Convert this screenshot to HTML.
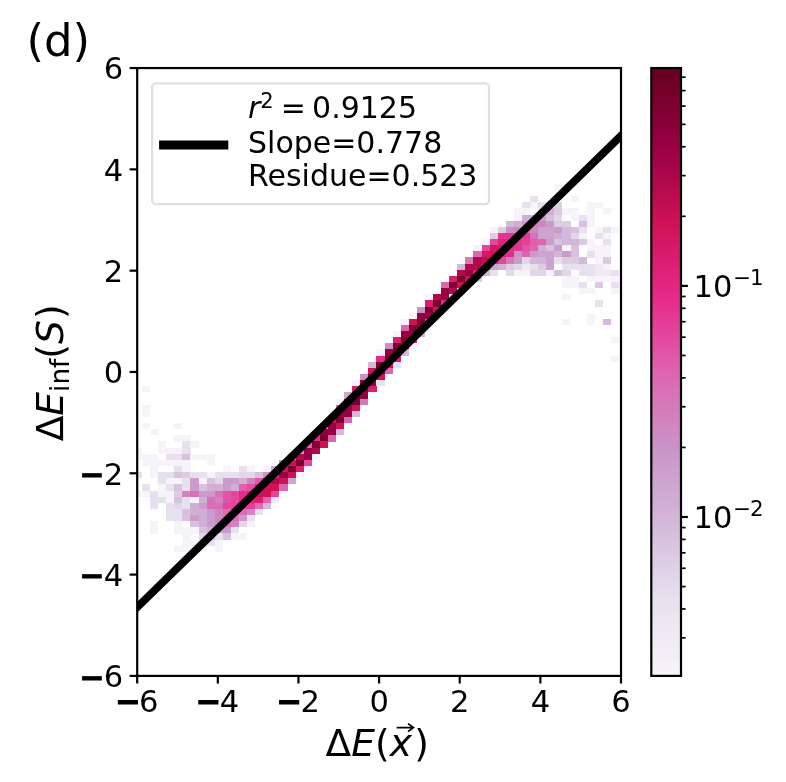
<!DOCTYPE html>
<html lang="en"><head><meta charset="utf-8"><title>(d) correlation plot</title>
<style>html,body{margin:0;padding:0;background:#fff}body{width:786px;height:782px;overflow:hidden}svg{display:block}text{font-family:"DejaVu Sans","Liberation Sans",sans-serif;fill:#000}.it{font-family:"DejaVu Sans","Liberation Sans",sans-serif;font-style:oblique}</style>
</head><body>
<svg width="786" height="782" viewBox="0 0 786 782">
<rect width="786" height="782" fill="#fff"/>
<defs><clipPath id="ax"><rect x="137.20" y="68.05" width="483.80" height="607.85"/></clipPath>
<linearGradient id="cb" x1="0" y1="0" x2="0" y2="1"><stop offset="0.0000" stop-color="#67001f"/><stop offset="0.0156" stop-color="#6c0022"/><stop offset="0.0312" stop-color="#720027"/><stop offset="0.0469" stop-color="#78002b"/><stop offset="0.0625" stop-color="#7e0030"/><stop offset="0.0781" stop-color="#840034"/><stop offset="0.0938" stop-color="#8a0039"/><stop offset="0.1094" stop-color="#91003d"/><stop offset="0.1250" stop-color="#970042"/><stop offset="0.1406" stop-color="#9d0245"/><stop offset="0.1562" stop-color="#a40447"/><stop offset="0.1719" stop-color="#ab064a"/><stop offset="0.1875" stop-color="#b2094c"/><stop offset="0.2031" stop-color="#b80b4e"/><stop offset="0.2188" stop-color="#bf0d51"/><stop offset="0.2344" stop-color="#c60f53"/><stop offset="0.2500" stop-color="#cd1256"/><stop offset="0.2656" stop-color="#d1145b"/><stop offset="0.2812" stop-color="#d41762"/><stop offset="0.2969" stop-color="#d71a68"/><stop offset="0.3125" stop-color="#da1d6f"/><stop offset="0.3281" stop-color="#dd2075"/><stop offset="0.3438" stop-color="#e0237c"/><stop offset="0.3594" stop-color="#e32682"/><stop offset="0.3750" stop-color="#e72989"/><stop offset="0.3906" stop-color="#e62f8e"/><stop offset="0.4062" stop-color="#e53793"/><stop offset="0.4219" stop-color="#e43e98"/><stop offset="0.4375" stop-color="#e3469c"/><stop offset="0.4531" stop-color="#e24da1"/><stop offset="0.4688" stop-color="#e155a6"/><stop offset="0.4844" stop-color="#e05dab"/><stop offset="0.5000" stop-color="#df64af"/><stop offset="0.5156" stop-color="#dd6ab3"/><stop offset="0.5312" stop-color="#da70b5"/><stop offset="0.5469" stop-color="#d776b8"/><stop offset="0.5625" stop-color="#d47cbb"/><stop offset="0.5781" stop-color="#d282be"/><stop offset="0.5938" stop-color="#cf88c1"/><stop offset="0.6094" stop-color="#cc8ec4"/><stop offset="0.6250" stop-color="#c993c7"/><stop offset="0.6406" stop-color="#ca98c9"/><stop offset="0.6562" stop-color="#cc9dcc"/><stop offset="0.6719" stop-color="#cda1ce"/><stop offset="0.6875" stop-color="#cea6d0"/><stop offset="0.7031" stop-color="#d0abd3"/><stop offset="0.7188" stop-color="#d1afd5"/><stop offset="0.7344" stop-color="#d3b4d7"/><stop offset="0.7500" stop-color="#d4b9da"/><stop offset="0.7656" stop-color="#d6bedc"/><stop offset="0.7812" stop-color="#d9c3df"/><stop offset="0.7969" stop-color="#dbc8e2"/><stop offset="0.8125" stop-color="#ddcde4"/><stop offset="0.8281" stop-color="#e0d2e7"/><stop offset="0.8438" stop-color="#e2d7ea"/><stop offset="0.8594" stop-color="#e5dcec"/><stop offset="0.8750" stop-color="#e7e1ef"/><stop offset="0.8906" stop-color="#e9e3f0"/><stop offset="0.9062" stop-color="#ebe6f1"/><stop offset="0.9219" stop-color="#ede8f3"/><stop offset="0.9375" stop-color="#efeaf4"/><stop offset="0.9531" stop-color="#f1edf5"/><stop offset="0.9688" stop-color="#f3eff6"/><stop offset="0.9844" stop-color="#f5f2f8"/><stop offset="1.0000" stop-color="#f7f4f9"/></linearGradient></defs>
<g clip-path="url(#ax)" shape-rendering="crispEdges">
<rect x="133.86" y="447.60" width="8.14" height="6.18" fill="#f7f4f9"/>
<rect x="133.86" y="453.74" width="8.14" height="6.18" fill="#f7f4f9"/>
<rect x="133.86" y="472.13" width="8.14" height="6.18" fill="#e7e1ef"/>
<rect x="133.86" y="490.53" width="8.14" height="6.18" fill="#f7f4f9"/>
<rect x="141.95" y="386.27" width="8.14" height="6.18" fill="#f7f4f9"/>
<rect x="141.95" y="404.67" width="8.14" height="6.18" fill="#f7f4f9"/>
<rect x="141.95" y="410.81" width="8.14" height="6.18" fill="#f7f4f9"/>
<rect x="141.95" y="423.07" width="8.14" height="6.18" fill="#f7f4f9"/>
<rect x="141.95" y="453.74" width="8.14" height="6.18" fill="#f7f4f9"/>
<rect x="141.95" y="459.87" width="8.14" height="6.18" fill="#f7f4f9"/>
<rect x="141.95" y="484.40" width="8.14" height="6.18" fill="#e7e1ef"/>
<rect x="141.95" y="490.53" width="8.14" height="6.18" fill="#f7f4f9"/>
<rect x="150.04" y="429.20" width="8.14" height="6.18" fill="#f7f4f9"/>
<rect x="150.04" y="453.74" width="8.14" height="6.18" fill="#f7f4f9"/>
<rect x="150.04" y="459.87" width="8.14" height="6.18" fill="#f7f4f9"/>
<rect x="150.04" y="466.00" width="8.14" height="6.18" fill="#f7f4f9"/>
<rect x="150.04" y="472.13" width="8.14" height="6.18" fill="#f7f4f9"/>
<rect x="150.04" y="490.53" width="8.14" height="6.18" fill="#e7e1ef"/>
<rect x="150.04" y="496.67" width="8.14" height="6.18" fill="#e7e1ef"/>
<rect x="150.04" y="502.80" width="8.14" height="6.18" fill="#e7e1ef"/>
<rect x="150.04" y="521.20" width="8.14" height="6.18" fill="#f7f4f9"/>
<rect x="150.04" y="527.33" width="8.14" height="6.18" fill="#f7f4f9"/>
<rect x="158.12" y="441.47" width="8.14" height="6.18" fill="#f7f4f9"/>
<rect x="158.12" y="447.60" width="8.14" height="6.18" fill="#f7f4f9"/>
<rect x="158.12" y="459.87" width="8.14" height="6.18" fill="#f7f4f9"/>
<rect x="158.12" y="472.13" width="8.14" height="6.18" fill="#e7e1ef"/>
<rect x="158.12" y="478.27" width="8.14" height="6.18" fill="#e7e1ef"/>
<rect x="158.12" y="484.40" width="8.14" height="6.18" fill="#f7f4f9"/>
<rect x="158.12" y="490.53" width="8.14" height="6.18" fill="#f7f4f9"/>
<rect x="158.12" y="496.67" width="8.14" height="6.18" fill="#e7e1ef"/>
<rect x="166.21" y="447.60" width="8.14" height="6.18" fill="#f7f4f9"/>
<rect x="166.21" y="453.74" width="8.14" height="6.18" fill="#e7e1ef"/>
<rect x="166.21" y="459.87" width="8.14" height="6.18" fill="#f7f4f9"/>
<rect x="166.21" y="472.13" width="8.14" height="6.18" fill="#e7e1ef"/>
<rect x="166.21" y="478.27" width="8.14" height="6.18" fill="#f7f4f9"/>
<rect x="166.21" y="484.40" width="8.14" height="6.18" fill="#e7e1ef"/>
<rect x="166.21" y="490.53" width="8.14" height="6.18" fill="#f7f4f9"/>
<rect x="166.21" y="496.67" width="8.14" height="6.18" fill="#f7f4f9"/>
<rect x="166.21" y="502.80" width="8.14" height="6.18" fill="#e7e1ef"/>
<rect x="166.21" y="508.93" width="8.14" height="6.18" fill="#e7e1ef"/>
<rect x="166.21" y="515.07" width="8.14" height="6.18" fill="#e7e1ef"/>
<rect x="174.29" y="423.07" width="8.14" height="6.18" fill="#f7f4f9"/>
<rect x="174.29" y="435.34" width="8.14" height="6.18" fill="#f7f4f9"/>
<rect x="174.29" y="447.60" width="8.14" height="6.18" fill="#f7f4f9"/>
<rect x="174.29" y="453.74" width="8.14" height="6.18" fill="#e7e1ef"/>
<rect x="174.29" y="459.87" width="8.14" height="6.18" fill="#f7f4f9"/>
<rect x="174.29" y="466.00" width="8.14" height="6.18" fill="#e7e1ef"/>
<rect x="174.29" y="472.13" width="8.14" height="6.18" fill="#d8c1de"/>
<rect x="174.29" y="478.27" width="8.14" height="6.18" fill="#f7f4f9"/>
<rect x="174.29" y="484.40" width="8.14" height="6.18" fill="#d8c1de"/>
<rect x="174.29" y="490.53" width="8.14" height="6.18" fill="#ddcde4"/>
<rect x="174.29" y="496.67" width="8.14" height="6.18" fill="#d8c1de"/>
<rect x="174.29" y="502.80" width="8.14" height="6.18" fill="#e2d6e9"/>
<rect x="174.29" y="508.93" width="8.14" height="6.18" fill="#e7e1ef"/>
<rect x="174.29" y="515.07" width="8.14" height="6.18" fill="#e7e1ef"/>
<rect x="174.29" y="521.20" width="8.14" height="6.18" fill="#f7f4f9"/>
<rect x="174.29" y="527.33" width="8.14" height="6.18" fill="#f7f4f9"/>
<rect x="174.29" y="545.73" width="8.14" height="6.18" fill="#f7f4f9"/>
<rect x="182.38" y="435.34" width="8.14" height="6.18" fill="#f7f4f9"/>
<rect x="182.38" y="441.47" width="8.14" height="6.18" fill="#e7e1ef"/>
<rect x="182.38" y="447.60" width="8.14" height="6.18" fill="#e7e1ef"/>
<rect x="182.38" y="453.74" width="8.14" height="6.18" fill="#d8c1de"/>
<rect x="182.38" y="459.87" width="8.14" height="6.18" fill="#f7f4f9"/>
<rect x="182.38" y="466.00" width="8.14" height="6.18" fill="#f7f4f9"/>
<rect x="182.38" y="472.13" width="8.14" height="6.18" fill="#ddcde4"/>
<rect x="182.38" y="478.27" width="8.14" height="6.18" fill="#e7e1ef"/>
<rect x="182.38" y="484.40" width="8.14" height="6.18" fill="#e7e1ef"/>
<rect x="182.38" y="490.53" width="8.14" height="6.18" fill="#cf86c0"/>
<rect x="182.38" y="496.67" width="8.14" height="6.18" fill="#e7e1ef"/>
<rect x="182.38" y="502.80" width="8.14" height="6.18" fill="#e7e1ef"/>
<rect x="182.38" y="508.93" width="8.14" height="6.18" fill="#d8c1de"/>
<rect x="182.38" y="515.07" width="8.14" height="6.18" fill="#d8c1de"/>
<rect x="182.38" y="527.33" width="8.14" height="6.18" fill="#f7f4f9"/>
<rect x="182.38" y="533.47" width="8.14" height="6.18" fill="#f7f4f9"/>
<rect x="182.38" y="539.60" width="8.14" height="6.18" fill="#f7f4f9"/>
<rect x="182.38" y="545.73" width="8.14" height="6.18" fill="#f7f4f9"/>
<rect x="190.47" y="441.47" width="8.14" height="6.18" fill="#f7f4f9"/>
<rect x="190.47" y="453.74" width="8.14" height="6.18" fill="#f7f4f9"/>
<rect x="190.47" y="472.13" width="8.14" height="6.18" fill="#e7e1ef"/>
<rect x="190.47" y="478.27" width="8.14" height="6.18" fill="#cb9ccb"/>
<rect x="190.47" y="484.40" width="8.14" height="6.18" fill="#cb9ccb"/>
<rect x="190.47" y="490.53" width="8.14" height="6.18" fill="#db6fb5"/>
<rect x="190.47" y="496.67" width="8.14" height="6.18" fill="#f7f4f9"/>
<rect x="190.47" y="502.80" width="8.14" height="6.18" fill="#d1aed4"/>
<rect x="190.47" y="508.93" width="8.14" height="6.18" fill="#d1aed4"/>
<rect x="190.47" y="515.07" width="8.14" height="6.18" fill="#cb9ccb"/>
<rect x="190.47" y="521.20" width="8.14" height="6.18" fill="#d8c1de"/>
<rect x="190.47" y="527.33" width="8.14" height="6.18" fill="#f7f4f9"/>
<rect x="190.47" y="539.60" width="8.14" height="6.18" fill="#f7f4f9"/>
<rect x="190.47" y="545.73" width="8.14" height="6.18" fill="#f7f4f9"/>
<rect x="198.55" y="453.74" width="8.14" height="6.18" fill="#f7f4f9"/>
<rect x="198.55" y="472.13" width="8.14" height="6.18" fill="#e7e1ef"/>
<rect x="198.55" y="478.27" width="8.14" height="6.18" fill="#f7f4f9"/>
<rect x="198.55" y="484.40" width="8.14" height="6.18" fill="#d8c1de"/>
<rect x="198.55" y="490.53" width="8.14" height="6.18" fill="#cb9ccb"/>
<rect x="198.55" y="496.67" width="8.14" height="6.18" fill="#d1aed4"/>
<rect x="198.55" y="502.80" width="8.14" height="6.18" fill="#cb9ccb"/>
<rect x="198.55" y="508.93" width="8.14" height="6.18" fill="#d1aed4"/>
<rect x="198.55" y="515.07" width="8.14" height="6.18" fill="#d1aed4"/>
<rect x="198.55" y="521.20" width="8.14" height="6.18" fill="#d1aed4"/>
<rect x="198.55" y="527.33" width="8.14" height="6.18" fill="#d8c1de"/>
<rect x="198.55" y="533.47" width="8.14" height="6.18" fill="#e2d6e9"/>
<rect x="198.55" y="539.60" width="8.14" height="6.18" fill="#e7e1ef"/>
<rect x="198.55" y="545.73" width="8.14" height="6.18" fill="#f7f4f9"/>
<rect x="206.64" y="453.74" width="8.14" height="6.18" fill="#f7f4f9"/>
<rect x="206.64" y="459.87" width="8.14" height="6.18" fill="#f7f4f9"/>
<rect x="206.64" y="472.13" width="8.14" height="6.18" fill="#f7f4f9"/>
<rect x="206.64" y="478.27" width="8.14" height="6.18" fill="#d8c1de"/>
<rect x="206.64" y="484.40" width="8.14" height="6.18" fill="#d1aed4"/>
<rect x="206.64" y="490.53" width="8.14" height="6.18" fill="#cb9ccb"/>
<rect x="206.64" y="496.67" width="8.14" height="6.18" fill="#db6fb5"/>
<rect x="206.64" y="502.80" width="8.14" height="6.18" fill="#db6fb5"/>
<rect x="206.64" y="508.93" width="8.14" height="6.18" fill="#cb9ccb"/>
<rect x="206.64" y="515.07" width="8.14" height="6.18" fill="#cb9ccb"/>
<rect x="206.64" y="521.20" width="8.14" height="6.18" fill="#cb9ccb"/>
<rect x="206.64" y="527.33" width="8.14" height="6.18" fill="#d1aed4"/>
<rect x="206.64" y="533.47" width="8.14" height="6.18" fill="#d8c1de"/>
<rect x="206.64" y="539.60" width="8.14" height="6.18" fill="#e7e1ef"/>
<rect x="214.72" y="472.13" width="8.14" height="6.18" fill="#e7e1ef"/>
<rect x="214.72" y="478.27" width="8.14" height="6.18" fill="#e2d6e9"/>
<rect x="214.72" y="484.40" width="8.14" height="6.18" fill="#d1aed4"/>
<rect x="214.72" y="490.53" width="8.14" height="6.18" fill="#db6fb5"/>
<rect x="214.72" y="496.67" width="8.14" height="6.18" fill="#cf86c0"/>
<rect x="214.72" y="502.80" width="8.14" height="6.18" fill="#db6fb5"/>
<rect x="214.72" y="508.93" width="8.14" height="6.18" fill="#cf86c0"/>
<rect x="214.72" y="515.07" width="8.14" height="6.18" fill="#cf86c0"/>
<rect x="214.72" y="521.20" width="8.14" height="6.18" fill="#cf86c0"/>
<rect x="214.72" y="527.33" width="8.14" height="6.18" fill="#cb9ccb"/>
<rect x="214.72" y="533.47" width="8.14" height="6.18" fill="#e7e1ef"/>
<rect x="214.72" y="539.60" width="8.14" height="6.18" fill="#f7f4f9"/>
<rect x="214.72" y="545.73" width="8.14" height="6.18" fill="#f7f4f9"/>
<rect x="222.81" y="466.00" width="8.14" height="6.18" fill="#f7f4f9"/>
<rect x="222.81" y="472.13" width="8.14" height="6.18" fill="#e7e1ef"/>
<rect x="222.81" y="478.27" width="8.14" height="6.18" fill="#cb9ccb"/>
<rect x="222.81" y="484.40" width="8.14" height="6.18" fill="#cb9ccb"/>
<rect x="222.81" y="490.53" width="8.14" height="6.18" fill="#e153a5"/>
<rect x="222.81" y="496.67" width="8.14" height="6.18" fill="#e153a5"/>
<rect x="222.81" y="502.80" width="8.14" height="6.18" fill="#e3469c"/>
<rect x="222.81" y="508.93" width="8.14" height="6.18" fill="#db6fb5"/>
<rect x="222.81" y="515.07" width="8.14" height="6.18" fill="#db6fb5"/>
<rect x="222.81" y="521.20" width="8.14" height="6.18" fill="#db6fb5"/>
<rect x="222.81" y="527.33" width="8.14" height="6.18" fill="#cb9ccb"/>
<rect x="222.81" y="533.47" width="8.14" height="6.18" fill="#d8c1de"/>
<rect x="230.90" y="472.13" width="8.14" height="6.18" fill="#e7e1ef"/>
<rect x="230.90" y="478.27" width="8.14" height="6.18" fill="#cb9ccb"/>
<rect x="230.90" y="484.40" width="8.14" height="6.18" fill="#d1aed4"/>
<rect x="230.90" y="490.53" width="8.14" height="6.18" fill="#e3469c"/>
<rect x="230.90" y="496.67" width="8.14" height="6.18" fill="#e3469c"/>
<rect x="230.90" y="502.80" width="8.14" height="6.18" fill="#e3469c"/>
<rect x="230.90" y="508.93" width="8.14" height="6.18" fill="#db6fb5"/>
<rect x="230.90" y="515.07" width="8.14" height="6.18" fill="#db6fb5"/>
<rect x="230.90" y="521.20" width="8.14" height="6.18" fill="#cf86c0"/>
<rect x="230.90" y="527.33" width="8.14" height="6.18" fill="#e7e1ef"/>
<rect x="230.90" y="533.47" width="8.14" height="6.18" fill="#f7f4f9"/>
<rect x="238.98" y="466.00" width="8.14" height="6.18" fill="#e7e1ef"/>
<rect x="238.98" y="472.13" width="8.14" height="6.18" fill="#e2d6e9"/>
<rect x="238.98" y="478.27" width="8.14" height="6.18" fill="#d1aed4"/>
<rect x="238.98" y="484.40" width="8.14" height="6.18" fill="#e05eac"/>
<rect x="238.98" y="490.53" width="8.14" height="6.18" fill="#e72989"/>
<rect x="238.98" y="496.67" width="8.14" height="6.18" fill="#e72989"/>
<rect x="238.98" y="502.80" width="8.14" height="6.18" fill="#e44099"/>
<rect x="238.98" y="508.93" width="8.14" height="6.18" fill="#db6fb5"/>
<rect x="238.98" y="515.07" width="8.14" height="6.18" fill="#cb9ccb"/>
<rect x="238.98" y="521.20" width="8.14" height="6.18" fill="#e2d6e9"/>
<rect x="238.98" y="533.47" width="8.14" height="6.18" fill="#f7f4f9"/>
<rect x="247.07" y="466.00" width="8.14" height="6.18" fill="#f7f4f9"/>
<rect x="247.07" y="472.13" width="8.14" height="6.18" fill="#e2d6e9"/>
<rect x="247.07" y="478.27" width="8.14" height="6.18" fill="#cf86c0"/>
<rect x="247.07" y="484.40" width="8.14" height="6.18" fill="#e24da1"/>
<rect x="247.07" y="490.53" width="8.14" height="6.18" fill="#df227a"/>
<rect x="247.07" y="496.67" width="8.14" height="6.18" fill="#df227a"/>
<rect x="247.07" y="502.80" width="8.14" height="6.18" fill="#e44099"/>
<rect x="247.07" y="508.93" width="8.14" height="6.18" fill="#cf86c0"/>
<rect x="247.07" y="515.07" width="8.14" height="6.18" fill="#e7e1ef"/>
<rect x="247.07" y="521.20" width="8.14" height="6.18" fill="#f7f4f9"/>
<rect x="255.15" y="472.13" width="8.14" height="6.18" fill="#d8c1de"/>
<rect x="255.15" y="478.27" width="8.14" height="6.18" fill="#e153a5"/>
<rect x="255.15" y="484.40" width="8.14" height="6.18" fill="#df227a"/>
<rect x="255.15" y="490.53" width="8.14" height="6.18" fill="#cd1256"/>
<rect x="255.15" y="496.67" width="8.14" height="6.18" fill="#da1d6f"/>
<rect x="255.15" y="502.80" width="8.14" height="6.18" fill="#db6fb5"/>
<rect x="255.15" y="508.93" width="8.14" height="6.18" fill="#e7e1ef"/>
<rect x="263.24" y="466.00" width="8.14" height="6.18" fill="#f7f4f9"/>
<rect x="263.24" y="472.13" width="8.14" height="6.18" fill="#c993c7"/>
<rect x="263.24" y="478.27" width="8.14" height="6.18" fill="#da1d6f"/>
<rect x="263.24" y="484.40" width="8.14" height="6.18" fill="#cd1256"/>
<rect x="263.24" y="490.53" width="8.14" height="6.18" fill="#cd1256"/>
<rect x="263.24" y="496.67" width="8.14" height="6.18" fill="#df64af"/>
<rect x="263.24" y="502.80" width="8.14" height="6.18" fill="#d4b9da"/>
<rect x="271.33" y="466.00" width="8.14" height="6.18" fill="#cea6d0"/>
<rect x="271.33" y="472.13" width="8.14" height="6.18" fill="#e72989"/>
<rect x="271.33" y="478.27" width="8.14" height="6.18" fill="#b2094c"/>
<rect x="271.33" y="484.40" width="8.14" height="6.18" fill="#cd1256"/>
<rect x="271.33" y="490.53" width="8.14" height="6.18" fill="#e3469c"/>
<rect x="271.33" y="496.67" width="8.14" height="6.18" fill="#efeaf4"/>
<rect x="279.41" y="459.87" width="8.14" height="6.18" fill="#c993c7"/>
<rect x="279.41" y="466.00" width="8.14" height="6.18" fill="#cd1256"/>
<rect x="279.41" y="472.13" width="8.14" height="6.18" fill="#970042"/>
<rect x="279.41" y="478.27" width="8.14" height="6.18" fill="#cd1256"/>
<rect x="279.41" y="484.40" width="8.14" height="6.18" fill="#df64af"/>
<rect x="287.50" y="453.74" width="8.14" height="6.18" fill="#df64af"/>
<rect x="287.50" y="459.87" width="8.14" height="6.18" fill="#cd1256"/>
<rect x="287.50" y="466.00" width="8.14" height="6.18" fill="#7e0030"/>
<rect x="287.50" y="472.13" width="8.14" height="6.18" fill="#cd1256"/>
<rect x="287.50" y="478.27" width="8.14" height="6.18" fill="#cea6d0"/>
<rect x="295.58" y="447.60" width="8.14" height="6.18" fill="#c993c7"/>
<rect x="295.58" y="453.74" width="8.14" height="6.18" fill="#b2094c"/>
<rect x="295.58" y="459.87" width="8.14" height="6.18" fill="#7e0030"/>
<rect x="295.58" y="466.00" width="8.14" height="6.18" fill="#da1d6f"/>
<rect x="295.58" y="472.13" width="8.14" height="6.18" fill="#f7f4f9"/>
<rect x="303.67" y="441.47" width="8.14" height="6.18" fill="#df64af"/>
<rect x="303.67" y="447.60" width="8.14" height="6.18" fill="#970042"/>
<rect x="303.67" y="453.74" width="8.14" height="6.18" fill="#970042"/>
<rect x="303.67" y="459.87" width="8.14" height="6.18" fill="#e3469c"/>
<rect x="303.67" y="466.00" width="8.14" height="6.18" fill="#f7f4f9"/>
<rect x="311.76" y="435.34" width="8.14" height="6.18" fill="#e72989"/>
<rect x="311.76" y="441.47" width="8.14" height="6.18" fill="#7e0030"/>
<rect x="311.76" y="447.60" width="8.14" height="6.18" fill="#b2094c"/>
<rect x="311.76" y="453.74" width="8.14" height="6.18" fill="#f7f4f9"/>
<rect x="319.84" y="423.07" width="8.14" height="6.18" fill="#c993c7"/>
<rect x="319.84" y="429.20" width="8.14" height="6.18" fill="#970042"/>
<rect x="319.84" y="435.34" width="8.14" height="6.18" fill="#7e0030"/>
<rect x="319.84" y="441.47" width="8.14" height="6.18" fill="#cd1256"/>
<rect x="327.93" y="410.81" width="8.14" height="6.18" fill="#f7f4f9"/>
<rect x="327.93" y="416.94" width="8.14" height="6.18" fill="#cd1256"/>
<rect x="327.93" y="423.07" width="8.14" height="6.18" fill="#970042"/>
<rect x="327.93" y="429.20" width="8.14" height="6.18" fill="#970042"/>
<rect x="327.93" y="435.34" width="8.14" height="6.18" fill="#df64af"/>
<rect x="336.01" y="398.54" width="8.14" height="6.18" fill="#f7f4f9"/>
<rect x="336.01" y="404.67" width="8.14" height="6.18" fill="#df64af"/>
<rect x="336.01" y="410.81" width="8.14" height="6.18" fill="#970042"/>
<rect x="336.01" y="416.94" width="8.14" height="6.18" fill="#7e0030"/>
<rect x="336.01" y="423.07" width="8.14" height="6.18" fill="#cd1256"/>
<rect x="336.01" y="429.20" width="8.14" height="6.18" fill="#d4b9da"/>
<rect x="344.10" y="392.41" width="8.14" height="6.18" fill="#cea6d0"/>
<rect x="344.10" y="398.54" width="8.14" height="6.18" fill="#970042"/>
<rect x="344.10" y="404.67" width="8.14" height="6.18" fill="#970042"/>
<rect x="344.10" y="410.81" width="8.14" height="6.18" fill="#970042"/>
<rect x="344.10" y="416.94" width="8.14" height="6.18" fill="#df64af"/>
<rect x="352.19" y="380.14" width="8.14" height="6.18" fill="#f7f4f9"/>
<rect x="352.19" y="386.27" width="8.14" height="6.18" fill="#da1d6f"/>
<rect x="352.19" y="392.41" width="8.14" height="6.18" fill="#7e0030"/>
<rect x="352.19" y="398.54" width="8.14" height="6.18" fill="#7e0030"/>
<rect x="352.19" y="404.67" width="8.14" height="6.18" fill="#cd1256"/>
<rect x="352.19" y="410.81" width="8.14" height="6.18" fill="#d4b9da"/>
<rect x="360.27" y="374.01" width="8.14" height="6.18" fill="#c993c7"/>
<rect x="360.27" y="380.14" width="8.14" height="6.18" fill="#970042"/>
<rect x="360.27" y="386.27" width="8.14" height="6.18" fill="#7e0030"/>
<rect x="360.27" y="392.41" width="8.14" height="6.18" fill="#970042"/>
<rect x="360.27" y="398.54" width="8.14" height="6.18" fill="#d47cbb"/>
<rect x="368.36" y="361.74" width="8.14" height="6.18" fill="#d4b9da"/>
<rect x="368.36" y="367.87" width="8.14" height="6.18" fill="#cd1256"/>
<rect x="368.36" y="374.01" width="8.14" height="6.18" fill="#7e0030"/>
<rect x="368.36" y="380.14" width="8.14" height="6.18" fill="#970042"/>
<rect x="368.36" y="386.27" width="8.14" height="6.18" fill="#da1d6f"/>
<rect x="376.44" y="349.48" width="8.14" height="6.18" fill="#f7f4f9"/>
<rect x="376.44" y="355.61" width="8.14" height="6.18" fill="#e72989"/>
<rect x="376.44" y="361.74" width="8.14" height="6.18" fill="#7e0030"/>
<rect x="376.44" y="367.87" width="8.14" height="6.18" fill="#970042"/>
<rect x="376.44" y="374.01" width="8.14" height="6.18" fill="#cd1256"/>
<rect x="376.44" y="380.14" width="8.14" height="6.18" fill="#e7e1ef"/>
<rect x="384.53" y="343.34" width="8.14" height="6.18" fill="#c993c7"/>
<rect x="384.53" y="349.48" width="8.14" height="6.18" fill="#970042"/>
<rect x="384.53" y="355.61" width="8.14" height="6.18" fill="#7e0030"/>
<rect x="384.53" y="361.74" width="8.14" height="6.18" fill="#cd1256"/>
<rect x="384.53" y="367.87" width="8.14" height="6.18" fill="#df64af"/>
<rect x="392.62" y="331.08" width="8.14" height="6.18" fill="#f7f4f9"/>
<rect x="392.62" y="337.21" width="8.14" height="6.18" fill="#da1d6f"/>
<rect x="392.62" y="343.34" width="8.14" height="6.18" fill="#7e0030"/>
<rect x="392.62" y="349.48" width="8.14" height="6.18" fill="#7e0030"/>
<rect x="392.62" y="355.61" width="8.14" height="6.18" fill="#da1d6f"/>
<rect x="392.62" y="361.74" width="8.14" height="6.18" fill="#e7e1ef"/>
<rect x="400.70" y="318.81" width="8.14" height="6.18" fill="#f7f4f9"/>
<rect x="400.70" y="324.94" width="8.14" height="6.18" fill="#df64af"/>
<rect x="400.70" y="331.08" width="8.14" height="6.18" fill="#970042"/>
<rect x="400.70" y="337.21" width="8.14" height="6.18" fill="#7e0030"/>
<rect x="400.70" y="343.34" width="8.14" height="6.18" fill="#cd1256"/>
<rect x="400.70" y="349.48" width="8.14" height="6.18" fill="#d4b9da"/>
<rect x="408.79" y="312.68" width="8.14" height="6.18" fill="#f7f4f9"/>
<rect x="408.79" y="318.81" width="8.14" height="6.18" fill="#cd1256"/>
<rect x="408.79" y="324.94" width="8.14" height="6.18" fill="#7e0030"/>
<rect x="408.79" y="331.08" width="8.14" height="6.18" fill="#970042"/>
<rect x="408.79" y="337.21" width="8.14" height="6.18" fill="#e72989"/>
<rect x="408.79" y="343.34" width="8.14" height="6.18" fill="#f7f4f9"/>
<rect x="416.87" y="306.54" width="8.14" height="6.18" fill="#c993c7"/>
<rect x="416.87" y="312.68" width="8.14" height="6.18" fill="#970042"/>
<rect x="416.87" y="318.81" width="8.14" height="6.18" fill="#7e0030"/>
<rect x="416.87" y="324.94" width="8.14" height="6.18" fill="#970042"/>
<rect x="416.87" y="331.08" width="8.14" height="6.18" fill="#d4b9da"/>
<rect x="424.96" y="294.28" width="8.14" height="6.18" fill="#f7f4f9"/>
<rect x="424.96" y="300.41" width="8.14" height="6.18" fill="#da1d6f"/>
<rect x="424.96" y="306.54" width="8.14" height="6.18" fill="#7e0030"/>
<rect x="424.96" y="312.68" width="8.14" height="6.18" fill="#970042"/>
<rect x="424.96" y="318.81" width="8.14" height="6.18" fill="#df64af"/>
<rect x="433.05" y="294.28" width="8.14" height="6.18" fill="#b2094c"/>
<rect x="433.05" y="300.41" width="8.14" height="6.18" fill="#7e0030"/>
<rect x="433.05" y="306.54" width="8.14" height="6.18" fill="#cd1256"/>
<rect x="441.13" y="282.01" width="8.14" height="6.18" fill="#df64af"/>
<rect x="441.13" y="288.14" width="8.14" height="6.18" fill="#970042"/>
<rect x="441.13" y="294.28" width="8.14" height="6.18" fill="#970042"/>
<rect x="441.13" y="300.41" width="8.14" height="6.18" fill="#e72989"/>
<rect x="449.22" y="275.88" width="8.14" height="6.18" fill="#da1d6f"/>
<rect x="449.22" y="282.01" width="8.14" height="6.18" fill="#7e0030"/>
<rect x="449.22" y="288.14" width="8.14" height="6.18" fill="#b2094c"/>
<rect x="457.30" y="263.61" width="8.14" height="6.18" fill="#d4b9da"/>
<rect x="457.30" y="269.75" width="8.14" height="6.18" fill="#b2094c"/>
<rect x="457.30" y="275.88" width="8.14" height="6.18" fill="#7e0030"/>
<rect x="457.30" y="282.01" width="8.14" height="6.18" fill="#cd1256"/>
<rect x="465.39" y="257.48" width="8.14" height="6.18" fill="#d47cbb"/>
<rect x="465.39" y="263.61" width="8.14" height="6.18" fill="#b2094c"/>
<rect x="465.39" y="269.75" width="8.14" height="6.18" fill="#970042"/>
<rect x="465.39" y="275.88" width="8.14" height="6.18" fill="#cd1256"/>
<rect x="473.48" y="245.21" width="8.14" height="6.18" fill="#f7f4f9"/>
<rect x="473.48" y="251.35" width="8.14" height="6.18" fill="#df64af"/>
<rect x="473.48" y="257.48" width="8.14" height="6.18" fill="#b2094c"/>
<rect x="473.48" y="263.61" width="8.14" height="6.18" fill="#b2094c"/>
<rect x="473.48" y="269.75" width="8.14" height="6.18" fill="#da1d6f"/>
<rect x="473.48" y="275.88" width="8.14" height="6.18" fill="#ddcde4"/>
<rect x="481.56" y="239.08" width="8.14" height="6.18" fill="#f7f4f9"/>
<rect x="481.56" y="245.21" width="8.14" height="6.18" fill="#e3469c"/>
<rect x="481.56" y="251.35" width="8.14" height="6.18" fill="#d31760"/>
<rect x="481.56" y="257.48" width="8.14" height="6.18" fill="#c30e52"/>
<rect x="481.56" y="263.61" width="8.14" height="6.18" fill="#da1d6f"/>
<rect x="481.56" y="269.75" width="8.14" height="6.18" fill="#d4b9da"/>
<rect x="489.65" y="226.81" width="8.14" height="6.18" fill="#f7f4f9"/>
<rect x="489.65" y="232.95" width="8.14" height="6.18" fill="#ddcde4"/>
<rect x="489.65" y="239.08" width="8.14" height="6.18" fill="#e3469c"/>
<rect x="489.65" y="245.21" width="8.14" height="6.18" fill="#d31760"/>
<rect x="489.65" y="251.35" width="8.14" height="6.18" fill="#cd1256"/>
<rect x="489.65" y="257.48" width="8.14" height="6.18" fill="#e72989"/>
<rect x="489.65" y="263.61" width="8.14" height="6.18" fill="#cea6d0"/>
<rect x="489.65" y="269.75" width="8.14" height="6.18" fill="#e7e1ef"/>
<rect x="497.73" y="226.81" width="8.14" height="6.18" fill="#ddcde4"/>
<rect x="497.73" y="232.95" width="8.14" height="6.18" fill="#e53592"/>
<rect x="497.73" y="239.08" width="8.14" height="6.18" fill="#df227a"/>
<rect x="497.73" y="245.21" width="8.14" height="6.18" fill="#da1d6f"/>
<rect x="497.73" y="251.35" width="8.14" height="6.18" fill="#df227a"/>
<rect x="497.73" y="257.48" width="8.14" height="6.18" fill="#e3469c"/>
<rect x="497.73" y="263.61" width="8.14" height="6.18" fill="#d2b2d6"/>
<rect x="505.82" y="220.68" width="8.14" height="6.18" fill="#d4b9da"/>
<rect x="505.82" y="226.81" width="8.14" height="6.18" fill="#c993c7"/>
<rect x="505.82" y="232.95" width="8.14" height="6.18" fill="#e53592"/>
<rect x="505.82" y="239.08" width="8.14" height="6.18" fill="#e72989"/>
<rect x="505.82" y="245.21" width="8.14" height="6.18" fill="#e72989"/>
<rect x="505.82" y="251.35" width="8.14" height="6.18" fill="#e72989"/>
<rect x="505.82" y="257.48" width="8.14" height="6.18" fill="#d47cbb"/>
<rect x="505.82" y="263.61" width="8.14" height="6.18" fill="#ddcde4"/>
<rect x="505.82" y="269.75" width="8.14" height="6.18" fill="#e3d9eb"/>
<rect x="513.91" y="208.42" width="8.14" height="6.18" fill="#f7f4f9"/>
<rect x="513.91" y="214.55" width="8.14" height="6.18" fill="#f7f4f9"/>
<rect x="513.91" y="220.68" width="8.14" height="6.18" fill="#d1aed4"/>
<rect x="513.91" y="226.81" width="8.14" height="6.18" fill="#cf86c0"/>
<rect x="513.91" y="232.95" width="8.14" height="6.18" fill="#e153a5"/>
<rect x="513.91" y="239.08" width="8.14" height="6.18" fill="#e53592"/>
<rect x="513.91" y="245.21" width="8.14" height="6.18" fill="#e53592"/>
<rect x="513.91" y="251.35" width="8.14" height="6.18" fill="#c993c7"/>
<rect x="513.91" y="257.48" width="8.14" height="6.18" fill="#cb9ccb"/>
<rect x="513.91" y="263.61" width="8.14" height="6.18" fill="#e2d6e9"/>
<rect x="513.91" y="269.75" width="8.14" height="6.18" fill="#f7f4f9"/>
<rect x="521.99" y="202.28" width="8.14" height="6.18" fill="#e7e1ef"/>
<rect x="521.99" y="208.42" width="8.14" height="6.18" fill="#f7f4f9"/>
<rect x="521.99" y="214.55" width="8.14" height="6.18" fill="#d1aed4"/>
<rect x="521.99" y="220.68" width="8.14" height="6.18" fill="#cb9ccb"/>
<rect x="521.99" y="226.81" width="8.14" height="6.18" fill="#db6fb5"/>
<rect x="521.99" y="232.95" width="8.14" height="6.18" fill="#e53592"/>
<rect x="521.99" y="239.08" width="8.14" height="6.18" fill="#e44099"/>
<rect x="521.99" y="245.21" width="8.14" height="6.18" fill="#e153a5"/>
<rect x="521.99" y="251.35" width="8.14" height="6.18" fill="#df64af"/>
<rect x="521.99" y="257.48" width="8.14" height="6.18" fill="#e2d6e9"/>
<rect x="521.99" y="263.61" width="8.14" height="6.18" fill="#efeaf4"/>
<rect x="521.99" y="269.75" width="8.14" height="6.18" fill="#f7f4f9"/>
<rect x="530.08" y="196.15" width="8.14" height="6.18" fill="#e7e1ef"/>
<rect x="530.08" y="202.28" width="8.14" height="6.18" fill="#f7f4f9"/>
<rect x="530.08" y="214.55" width="8.14" height="6.18" fill="#d1aed4"/>
<rect x="530.08" y="220.68" width="8.14" height="6.18" fill="#cf86c0"/>
<rect x="530.08" y="226.81" width="8.14" height="6.18" fill="#cf86c0"/>
<rect x="530.08" y="232.95" width="8.14" height="6.18" fill="#db6fb5"/>
<rect x="530.08" y="239.08" width="8.14" height="6.18" fill="#e05eac"/>
<rect x="530.08" y="245.21" width="8.14" height="6.18" fill="#df64af"/>
<rect x="530.08" y="251.35" width="8.14" height="6.18" fill="#cb9ccb"/>
<rect x="530.08" y="257.48" width="8.14" height="6.18" fill="#d3b5d8"/>
<rect x="530.08" y="263.61" width="8.14" height="6.18" fill="#e7e1ef"/>
<rect x="530.08" y="269.75" width="8.14" height="6.18" fill="#e2d6e9"/>
<rect x="538.16" y="202.28" width="8.14" height="6.18" fill="#e7e1ef"/>
<rect x="538.16" y="208.42" width="8.14" height="6.18" fill="#e7e1ef"/>
<rect x="538.16" y="214.55" width="8.14" height="6.18" fill="#cb9ccb"/>
<rect x="538.16" y="220.68" width="8.14" height="6.18" fill="#cf86c0"/>
<rect x="538.16" y="226.81" width="8.14" height="6.18" fill="#cda3cf"/>
<rect x="538.16" y="232.95" width="8.14" height="6.18" fill="#cda3cf"/>
<rect x="538.16" y="239.08" width="8.14" height="6.18" fill="#df64af"/>
<rect x="538.16" y="245.21" width="8.14" height="6.18" fill="#d1aed4"/>
<rect x="538.16" y="251.35" width="8.14" height="6.18" fill="#cda3cf"/>
<rect x="538.16" y="257.48" width="8.14" height="6.18" fill="#d3b5d8"/>
<rect x="538.16" y="263.61" width="8.14" height="6.18" fill="#ddcde4"/>
<rect x="538.16" y="269.75" width="8.14" height="6.18" fill="#e2d6e9"/>
<rect x="546.25" y="202.28" width="8.14" height="6.18" fill="#e2d6e9"/>
<rect x="546.25" y="208.42" width="8.14" height="6.18" fill="#d1aed4"/>
<rect x="546.25" y="214.55" width="8.14" height="6.18" fill="#d8c1de"/>
<rect x="546.25" y="220.68" width="8.14" height="6.18" fill="#cb9ccb"/>
<rect x="546.25" y="226.81" width="8.14" height="6.18" fill="#cda3cf"/>
<rect x="546.25" y="232.95" width="8.14" height="6.18" fill="#cda3cf"/>
<rect x="546.25" y="239.08" width="8.14" height="6.18" fill="#cb9ccb"/>
<rect x="546.25" y="245.21" width="8.14" height="6.18" fill="#d8c1de"/>
<rect x="546.25" y="251.35" width="8.14" height="6.18" fill="#cda3cf"/>
<rect x="546.25" y="257.48" width="8.14" height="6.18" fill="#cda3cf"/>
<rect x="546.25" y="263.61" width="8.14" height="6.18" fill="#cda3cf"/>
<rect x="546.25" y="269.75" width="8.14" height="6.18" fill="#f7f4f9"/>
<rect x="554.34" y="183.88" width="8.14" height="6.18" fill="#f7f4f9"/>
<rect x="554.34" y="202.28" width="8.14" height="6.18" fill="#ddcde4"/>
<rect x="554.34" y="208.42" width="8.14" height="6.18" fill="#dcc9e2"/>
<rect x="554.34" y="214.55" width="8.14" height="6.18" fill="#e2d6e9"/>
<rect x="554.34" y="220.68" width="8.14" height="6.18" fill="#ddcde4"/>
<rect x="554.34" y="226.81" width="8.14" height="6.18" fill="#cb9ccb"/>
<rect x="554.34" y="232.95" width="8.14" height="6.18" fill="#d1aed4"/>
<rect x="554.34" y="239.08" width="8.14" height="6.18" fill="#d8c1de"/>
<rect x="554.34" y="245.21" width="8.14" height="6.18" fill="#cb9ccb"/>
<rect x="554.34" y="251.35" width="8.14" height="6.18" fill="#d3b5d8"/>
<rect x="554.34" y="257.48" width="8.14" height="6.18" fill="#e7e1ef"/>
<rect x="554.34" y="269.75" width="8.14" height="6.18" fill="#d8c1de"/>
<rect x="562.42" y="208.42" width="8.14" height="6.18" fill="#f7f4f9"/>
<rect x="562.42" y="220.68" width="8.14" height="6.18" fill="#ddcde4"/>
<rect x="562.42" y="226.81" width="8.14" height="6.18" fill="#d4b9da"/>
<rect x="562.42" y="232.95" width="8.14" height="6.18" fill="#d4b9da"/>
<rect x="562.42" y="239.08" width="8.14" height="6.18" fill="#d3b5d8"/>
<rect x="562.42" y="245.21" width="8.14" height="6.18" fill="#f7f4f9"/>
<rect x="562.42" y="251.35" width="8.14" height="6.18" fill="#cb9ccb"/>
<rect x="562.42" y="257.48" width="8.14" height="6.18" fill="#ddcde4"/>
<rect x="562.42" y="263.61" width="8.14" height="6.18" fill="#e7e1ef"/>
<rect x="562.42" y="269.75" width="8.14" height="6.18" fill="#e2d6e9"/>
<rect x="562.42" y="275.88" width="8.14" height="6.18" fill="#f7f4f9"/>
<rect x="562.42" y="282.01" width="8.14" height="6.18" fill="#f7f4f9"/>
<rect x="562.42" y="294.28" width="8.14" height="6.18" fill="#f7f4f9"/>
<rect x="562.42" y="318.81" width="8.14" height="6.18" fill="#f7f4f9"/>
<rect x="570.51" y="196.15" width="8.14" height="6.18" fill="#f7f4f9"/>
<rect x="570.51" y="208.42" width="8.14" height="6.18" fill="#f7f4f9"/>
<rect x="570.51" y="214.55" width="8.14" height="6.18" fill="#f7f4f9"/>
<rect x="570.51" y="226.81" width="8.14" height="6.18" fill="#d8c1de"/>
<rect x="570.51" y="232.95" width="8.14" height="6.18" fill="#e2d6e9"/>
<rect x="570.51" y="239.08" width="8.14" height="6.18" fill="#d3b5d8"/>
<rect x="570.51" y="245.21" width="8.14" height="6.18" fill="#d8c1de"/>
<rect x="570.51" y="251.35" width="8.14" height="6.18" fill="#d8c1de"/>
<rect x="570.51" y="257.48" width="8.14" height="6.18" fill="#ddcde4"/>
<rect x="570.51" y="263.61" width="8.14" height="6.18" fill="#e7e1ef"/>
<rect x="570.51" y="275.88" width="8.14" height="6.18" fill="#f7f4f9"/>
<rect x="570.51" y="282.01" width="8.14" height="6.18" fill="#f7f4f9"/>
<rect x="578.59" y="214.55" width="8.14" height="6.18" fill="#e7e1ef"/>
<rect x="578.59" y="220.68" width="8.14" height="6.18" fill="#d8c1de"/>
<rect x="578.59" y="226.81" width="8.14" height="6.18" fill="#e7e1ef"/>
<rect x="578.59" y="232.95" width="8.14" height="6.18" fill="#f7f4f9"/>
<rect x="578.59" y="239.08" width="8.14" height="6.18" fill="#dcc9e2"/>
<rect x="578.59" y="257.48" width="8.14" height="6.18" fill="#d4b9da"/>
<rect x="578.59" y="263.61" width="8.14" height="6.18" fill="#e7e1ef"/>
<rect x="578.59" y="269.75" width="8.14" height="6.18" fill="#e7e1ef"/>
<rect x="578.59" y="282.01" width="8.14" height="6.18" fill="#e7e1ef"/>
<rect x="578.59" y="288.14" width="8.14" height="6.18" fill="#f7f4f9"/>
<rect x="586.68" y="202.28" width="8.14" height="6.18" fill="#f7f4f9"/>
<rect x="586.68" y="208.42" width="8.14" height="6.18" fill="#f7f4f9"/>
<rect x="586.68" y="214.55" width="8.14" height="6.18" fill="#f7f4f9"/>
<rect x="586.68" y="220.68" width="8.14" height="6.18" fill="#f7f4f9"/>
<rect x="586.68" y="239.08" width="8.14" height="6.18" fill="#f7f4f9"/>
<rect x="586.68" y="245.21" width="8.14" height="6.18" fill="#f7f4f9"/>
<rect x="586.68" y="251.35" width="8.14" height="6.18" fill="#e7e1ef"/>
<rect x="586.68" y="263.61" width="8.14" height="6.18" fill="#e7e1ef"/>
<rect x="586.68" y="269.75" width="8.14" height="6.18" fill="#e7e1ef"/>
<rect x="586.68" y="275.88" width="8.14" height="6.18" fill="#f7f4f9"/>
<rect x="586.68" y="288.14" width="8.14" height="6.18" fill="#f7f4f9"/>
<rect x="586.68" y="312.68" width="8.14" height="6.18" fill="#f7f4f9"/>
<rect x="586.68" y="318.81" width="8.14" height="6.18" fill="#f7f4f9"/>
<rect x="594.77" y="202.28" width="8.14" height="6.18" fill="#f7f4f9"/>
<rect x="594.77" y="226.81" width="8.14" height="6.18" fill="#f7f4f9"/>
<rect x="594.77" y="232.95" width="8.14" height="6.18" fill="#e7e1ef"/>
<rect x="594.77" y="245.21" width="8.14" height="6.18" fill="#f7f4f9"/>
<rect x="594.77" y="251.35" width="8.14" height="6.18" fill="#f7f4f9"/>
<rect x="594.77" y="257.48" width="8.14" height="6.18" fill="#f7f4f9"/>
<rect x="594.77" y="263.61" width="8.14" height="6.18" fill="#efeaf4"/>
<rect x="594.77" y="269.75" width="8.14" height="6.18" fill="#efeaf4"/>
<rect x="594.77" y="275.88" width="8.14" height="6.18" fill="#f7f4f9"/>
<rect x="594.77" y="282.01" width="8.14" height="6.18" fill="#dcc9e2"/>
<rect x="594.77" y="300.41" width="8.14" height="6.18" fill="#e7e1ef"/>
<rect x="602.85" y="208.42" width="8.14" height="6.18" fill="#f7f4f9"/>
<rect x="602.85" y="226.81" width="8.14" height="6.18" fill="#e7e1ef"/>
<rect x="602.85" y="232.95" width="8.14" height="6.18" fill="#f7f4f9"/>
<rect x="602.85" y="239.08" width="8.14" height="6.18" fill="#e7e1ef"/>
<rect x="602.85" y="245.21" width="8.14" height="6.18" fill="#f7f4f9"/>
<rect x="602.85" y="251.35" width="8.14" height="6.18" fill="#f7f4f9"/>
<rect x="602.85" y="257.48" width="8.14" height="6.18" fill="#dcc9e2"/>
<rect x="602.85" y="263.61" width="8.14" height="6.18" fill="#f7f4f9"/>
<rect x="602.85" y="269.75" width="8.14" height="6.18" fill="#efeaf4"/>
<rect x="602.85" y="275.88" width="8.14" height="6.18" fill="#f7f4f9"/>
<rect x="602.85" y="318.81" width="8.14" height="6.18" fill="#d4b9da"/>
<rect x="610.94" y="226.81" width="8.14" height="6.18" fill="#f7f4f9"/>
<rect x="610.94" y="269.75" width="8.14" height="6.18" fill="#e7e1ef"/>
<rect x="610.94" y="275.88" width="8.14" height="6.18" fill="#f7f4f9"/>
<rect x="610.94" y="282.01" width="8.14" height="6.18" fill="#e7e1ef"/>
<rect x="610.94" y="288.14" width="8.14" height="6.18" fill="#f7f4f9"/>
<rect x="610.94" y="337.21" width="8.14" height="6.18" fill="#f7f4f9"/>
<rect x="610.94" y="355.61" width="8.14" height="6.18" fill="#f7f4f9"/>
</g>
<g clip-path="url(#ax)"><line x1="137.20" y1="607.20" x2="621.00" y2="135.70" stroke="#000" stroke-width="7.80" stroke-linecap="square"/></g>
<rect x="137.20" y="68.05" width="483.80" height="607.85" fill="none" stroke="#000" stroke-width="2.20"/>
<line x1="137.20" y1="675.90" x2="137.20" y2="683.50" stroke="#000" stroke-width="2.20"/>
<text x="115.20" y="711.60" font-size="30.56"><tspan font-weight="bold" stroke="#000" stroke-width="1.1">−</tspan><tspan dx="-1.7">6</tspan></text>
<line x1="129.60" y1="675.90" x2="137.20" y2="675.90" stroke="#000" stroke-width="2.20"/>
<text x="123.20" y="687.20" font-size="30.56" text-anchor="end"><tspan font-weight="bold" stroke="#000" stroke-width="0.7" dy="0.3">−</tspan><tspan dx="-1.1" dy="-0.3">6</tspan></text>
<line x1="217.83" y1="675.90" x2="217.83" y2="683.50" stroke="#000" stroke-width="2.20"/>
<text x="195.83" y="711.60" font-size="30.56"><tspan font-weight="bold" stroke="#000" stroke-width="1.1">−</tspan><tspan dx="-1.7">4</tspan></text>
<line x1="129.60" y1="574.59" x2="137.20" y2="574.59" stroke="#000" stroke-width="2.20"/>
<text x="123.20" y="585.89" font-size="30.56" text-anchor="end"><tspan font-weight="bold" stroke="#000" stroke-width="0.7" dy="0.3">−</tspan><tspan dx="-1.1" dy="-0.3">4</tspan></text>
<line x1="298.47" y1="675.90" x2="298.47" y2="683.50" stroke="#000" stroke-width="2.20"/>
<text x="276.47" y="711.60" font-size="30.56"><tspan font-weight="bold" stroke="#000" stroke-width="1.1">−</tspan><tspan dx="-1.7">2</tspan></text>
<line x1="129.60" y1="473.28" x2="137.20" y2="473.28" stroke="#000" stroke-width="2.20"/>
<text x="123.20" y="484.58" font-size="30.56" text-anchor="end"><tspan font-weight="bold" stroke="#000" stroke-width="0.7" dy="0.3">−</tspan><tspan dx="-1.1" dy="-0.3">2</tspan></text>
<line x1="379.10" y1="675.90" x2="379.10" y2="683.50" stroke="#000" stroke-width="2.20"/>
<text x="379.10" y="711.60" font-size="30.56" text-anchor="middle">0</text>
<line x1="129.60" y1="371.97" x2="137.20" y2="371.97" stroke="#000" stroke-width="2.20"/>
<text x="123.20" y="383.27" font-size="30.56" text-anchor="end">0</text>
<line x1="459.73" y1="675.90" x2="459.73" y2="683.50" stroke="#000" stroke-width="2.20"/>
<text x="459.73" y="711.60" font-size="30.56" text-anchor="middle">2</text>
<line x1="129.60" y1="270.67" x2="137.20" y2="270.67" stroke="#000" stroke-width="2.20"/>
<text x="123.20" y="281.97" font-size="30.56" text-anchor="end">2</text>
<line x1="540.37" y1="675.90" x2="540.37" y2="683.50" stroke="#000" stroke-width="2.20"/>
<text x="540.37" y="711.60" font-size="30.56" text-anchor="middle">4</text>
<line x1="129.60" y1="169.36" x2="137.20" y2="169.36" stroke="#000" stroke-width="2.20"/>
<text x="123.20" y="180.66" font-size="30.56" text-anchor="end">4</text>
<line x1="621.00" y1="675.90" x2="621.00" y2="683.50" stroke="#000" stroke-width="2.20"/>
<text x="621.00" y="711.60" font-size="30.56" text-anchor="middle">6</text>
<line x1="129.60" y1="68.05" x2="137.20" y2="68.05" stroke="#000" stroke-width="2.20"/>
<text x="123.20" y="79.35" font-size="30.56" text-anchor="end">6</text>
<text x="377.30" y="755.60" font-size="37.60" text-anchor="middle">Δ<tspan class="it">E</tspan>(<tspan class="it">x</tspan><tspan dx="2.4">)</tspan></text>
<g id="vec" stroke="#000" stroke-width="1.8" fill="none"><path d="M396.7 727.6 H413 M408 723.6 L413.4 727.6 L408 731.6"/></g>
<g transform="translate(62.80 372.80) rotate(-90)"><text x="0" y="0" font-size="37.60" text-anchor="middle">Δ<tspan class="it">E</tspan><tspan font-size="26.32" dy="6">inf</tspan><tspan dy="-6">(</tspan><tspan class="it">S</tspan><tspan dx="1.2">)</tspan></text></g>
<rect x="152.1" y="83.3" width="336.9" height="120.9" rx="4" ry="4" fill="#fff" fill-opacity="0.8" stroke="#e0e0e0" stroke-width="2.3"/>
<line x1="159.1" y1="145" x2="228.3" y2="145" stroke="#000" stroke-width="8.9"/>
<text x="248" y="118.2" font-size="30.00"><tspan class="it">r</tspan><tspan font-size="21.00" dy="-10.5">2</tspan><tspan dy="10.5" dx="7.1">=</tspan><tspan dx="6.1">0.9125</tspan></text>
<text x="248" y="152.7" font-size="30.00">Slope=0.778</text>
<text x="248" y="186.2" font-size="30.00">Residue=0.523</text>
<rect x="651.30" y="68.05" width="29.70" height="607.85" fill="url(#cb)" stroke="#000" stroke-width="2.20"/>
<line x1="681.00" y1="285.90" x2="687.90" y2="285.90" stroke="#000" stroke-width="2.20"/>
<text x="693.60" y="296.50" font-size="30.56">10<tspan font-size="21.39" dy="-11.2" dx="0.8">−</tspan><tspan font-size="21.39" dx="-1.2">1</tspan></text>
<line x1="681.00" y1="517.00" x2="687.90" y2="517.00" stroke="#000" stroke-width="2.20"/>
<text x="693.60" y="527.60" font-size="30.56">10<tspan font-size="21.39" dy="-11.2" dx="0.8">−</tspan><tspan font-size="21.39" dx="-1.2">2</tspan></text>
<line x1="681.00" y1="637.84" x2="685.60" y2="637.84" stroke="#000" stroke-width="1.70"/>
<line x1="681.00" y1="608.96" x2="685.60" y2="608.96" stroke="#000" stroke-width="1.70"/>
<line x1="681.00" y1="586.57" x2="685.60" y2="586.57" stroke="#000" stroke-width="1.70"/>
<line x1="681.00" y1="568.27" x2="685.60" y2="568.27" stroke="#000" stroke-width="1.70"/>
<line x1="681.00" y1="552.80" x2="685.60" y2="552.80" stroke="#000" stroke-width="1.70"/>
<line x1="681.00" y1="539.40" x2="685.60" y2="539.40" stroke="#000" stroke-width="1.70"/>
<line x1="681.00" y1="527.57" x2="685.60" y2="527.57" stroke="#000" stroke-width="1.70"/>
<line x1="681.00" y1="447.43" x2="685.60" y2="447.43" stroke="#000" stroke-width="1.70"/>
<line x1="681.00" y1="406.74" x2="685.60" y2="406.74" stroke="#000" stroke-width="1.70"/>
<line x1="681.00" y1="377.86" x2="685.60" y2="377.86" stroke="#000" stroke-width="1.70"/>
<line x1="681.00" y1="355.47" x2="685.60" y2="355.47" stroke="#000" stroke-width="1.70"/>
<line x1="681.00" y1="337.17" x2="685.60" y2="337.17" stroke="#000" stroke-width="1.70"/>
<line x1="681.00" y1="321.70" x2="685.60" y2="321.70" stroke="#000" stroke-width="1.70"/>
<line x1="681.00" y1="308.30" x2="685.60" y2="308.30" stroke="#000" stroke-width="1.70"/>
<line x1="681.00" y1="296.47" x2="685.60" y2="296.47" stroke="#000" stroke-width="1.70"/>
<line x1="681.00" y1="216.33" x2="685.60" y2="216.33" stroke="#000" stroke-width="1.70"/>
<line x1="681.00" y1="175.64" x2="685.60" y2="175.64" stroke="#000" stroke-width="1.70"/>
<line x1="681.00" y1="146.76" x2="685.60" y2="146.76" stroke="#000" stroke-width="1.70"/>
<line x1="681.00" y1="124.37" x2="685.60" y2="124.37" stroke="#000" stroke-width="1.70"/>
<line x1="681.00" y1="106.07" x2="685.60" y2="106.07" stroke="#000" stroke-width="1.70"/>
<line x1="681.00" y1="90.60" x2="685.60" y2="90.60" stroke="#000" stroke-width="1.70"/>
<line x1="681.00" y1="77.20" x2="685.60" y2="77.20" stroke="#000" stroke-width="1.70"/>
<text x="26.5" y="56" font-size="45">(d)</text>
</svg></body></html>
